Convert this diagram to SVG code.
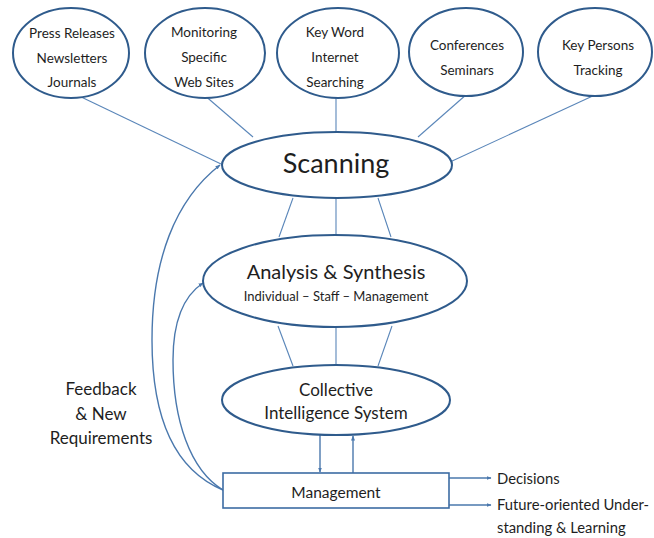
<svg xmlns="http://www.w3.org/2000/svg" width="654" height="538" viewBox="0 0 654 538">
  <style>
    text { font-family: Lato, "Liberation Sans", sans-serif; fill: #1e1e1e; text-anchor: middle; }
    .node ellipse { fill: #ffffff; stroke: #2f5b8c; stroke-width: 2; }
    .node rect { fill: #ffffff; stroke: #3c6ca3; stroke-width: 1.6; }
    .src text { font-size: 13.5px; }
    .conn line, .conn path { fill: none; stroke: #5a86b9; stroke-width: 1.1; }
    .conn .strong { stroke: #4a78ad; stroke-width: 1.4; }
    .side { text-anchor: start; font-size: 14.8px; }
  </style>
  <defs>
    <marker id="arrow" viewBox="0 0 10 10" refX="9" refY="5" markerWidth="5" markerHeight="5" orient="auto" markerUnits="userSpaceOnUse">
      <path d="M0,1 L10,5 L0,9 z" fill="#4a78ad"/>
    </marker>
  </defs>

  <rect width="654" height="538" fill="#ffffff"/>

  <!-- connectors -->
  <g id="connectors" class="conn">
    <!-- sources to Scanning -->
    <line x1="77" y1="95" x2="221" y2="164"/>
    <line x1="203" y1="94" x2="253" y2="137"/>
    <line x1="336" y1="98" x2="336" y2="132"/>
    <line x1="467" y1="94" x2="418" y2="137"/>
    <line x1="597" y1="94" x2="450" y2="162"/>
    <!-- Scanning to Analysis -->
    <line x1="293" y1="198" x2="279" y2="237"/>
    <line x1="336" y1="198" x2="336" y2="235"/>
    <line x1="378" y1="198" x2="391" y2="237"/>
    <!-- Analysis to Collective -->
    <line x1="278" y1="326" x2="293" y2="366"/>
    <line x1="336" y1="327" x2="336" y2="365"/>
    <line x1="392" y1="326" x2="378" y2="366"/>
    <!-- Collective <-> Management -->
    <line class="strong" x1="320" y1="435" x2="320" y2="472" marker-end="url(#arrow)"/>
    <line class="strong" x1="353" y1="473" x2="353" y2="436" marker-end="url(#arrow)"/>
    <!-- feedback loops -->
    <path class="strong" d="M223,490 C175,470 152,420 152,340 C152,260 175,200 220,165" marker-end="url(#arrow)"/>
    <path class="strong" d="M223,490 C190,470 173,420 173,360 C173,320 185,295 203,283" marker-end="url(#arrow)"/>
    <!-- outputs -->
    <line class="strong" x1="449" y1="478" x2="491" y2="478" marker-end="url(#arrow)"/>
    <line class="strong" x1="449" y1="505" x2="491" y2="505" marker-end="url(#arrow)"/>
  </g>

  <!-- source nodes -->
  <g id="press" class="node src">
    <ellipse cx="71" cy="53" rx="58" ry="45"/>
    <text x="72" y="38">Press Releases</text>
    <text x="72" y="63">Newsletters</text>
    <text x="72" y="87">Journals</text>
  </g>
  <g id="monitoring" class="node src">
    <ellipse cx="205" cy="53" rx="60" ry="45"/>
    <text x="204" y="37">Monitoring</text>
    <text x="204" y="62">Specific</text>
    <text x="204" y="87">Web Sites</text>
  </g>
  <g id="keyword" class="node src">
    <ellipse cx="338" cy="53" rx="61" ry="45"/>
    <text x="335" y="37">Key Word</text>
    <text x="335" y="62">Internet</text>
    <text x="335" y="87">Searching</text>
  </g>
  <g id="conferences" class="node src">
    <ellipse cx="466" cy="52" rx="57" ry="44"/>
    <text x="467" y="50">Conferences</text>
    <text x="467" y="75">Seminars</text>
  </g>
  <g id="keypersons" class="node src">
    <ellipse cx="595" cy="52" rx="57" ry="44"/>
    <text x="598" y="50">Key Persons</text>
    <text x="598" y="75">Tracking</text>
  </g>

  <!-- processing chain -->
  <g id="scanning" class="node">
    <ellipse cx="337" cy="165" rx="115" ry="33"/>
    <text x="336" y="173" font-size="27">Scanning</text>
  </g>
  <g id="analysis" class="node">
    <ellipse cx="335" cy="281" rx="132" ry="46"/>
    <text x="336" y="279" font-size="20">Analysis &amp; Synthesis</text>
    <text x="336" y="301" font-size="13">Individual – Staff – Management</text>
  </g>
  <g id="collective" class="node">
    <ellipse cx="336" cy="400" rx="114" ry="35"/>
    <text x="336" y="396" font-size="17">Collective</text>
    <text x="336" y="419" font-size="17">Intelligence System</text>
  </g>
  <g id="management" class="node">
    <rect x="223" y="473" width="226" height="35"/>
    <text x="336" y="498" font-size="15.5">Management</text>
  </g>

  <!-- side labels -->
  <g id="feedback-label">
    <text x="101" y="395" font-size="17">Feedback</text>
    <text x="101" y="420" font-size="17">&amp; New</text>
    <text x="101" y="444" font-size="17">Requirements</text>
  </g>
  <g id="outputs">
    <text class="side" x="497" y="484">Decisions</text>
    <text class="side" x="497" y="510">Future-oriented Under-</text>
    <text class="side" x="497" y="533">standing &amp; Learning</text>
  </g>
</svg>
